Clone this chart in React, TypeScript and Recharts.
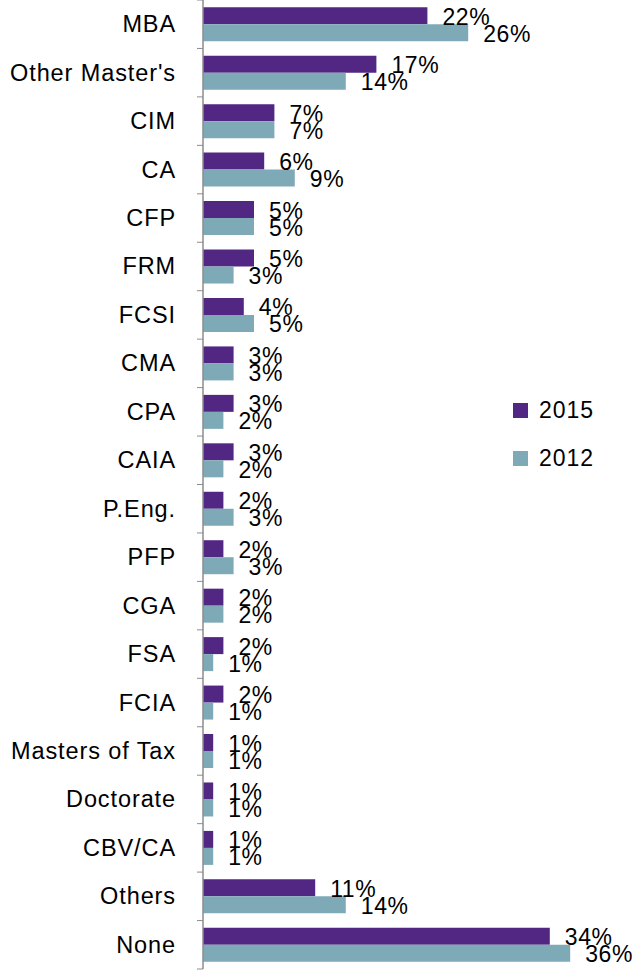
import { Bar, BarChart, LabelList, XAxis, YAxis } from "recharts";

const categories = [
  "MBA",
  "Other Master's",
  "CIM",
  "CA",
  "CFP",
  "FRM",
  "FCSI",
  "CMA",
  "CPA",
  "CAIA",
  "P.Eng.",
  "PFP",
  "CGA",
  "FSA",
  "FCIA",
  "Masters of Tax",
  "Doctorate",
  "CBV/CA",
  "Others",
  "None",
];
const values2015 = [22, 17, 7, 6, 5, 5, 4, 3, 3, 3, 2, 2, 2, 2, 2, 1, 1, 1, 11, 34];
const values2012 = [26, 14, 7, 9, 5, 3, 5, 3, 2, 2, 3, 3, 2, 1, 1, 1, 1, 1, 14, 36];
const seriesNames = ["2015", "2012"];

const colors = { y2015: "#522683", y2012: "#7eaab8", axis: "#8c8c8c" };
const font = "'Liberation Sans', Arial, sans-serif";

const chartData = categories.map((name, i) => ({
  name,
  y2015: values2015[i],
  y2012: values2012[i],
}));

const W = 638;
const H = 972;
const margin = { top: 0, right: 27, bottom: 3, left: 0 };
const band = (H - margin.top - margin.bottom) / categories.length;

function CategoryTick(props: any) {
  const { x, y, payload, index } = props;
  const axisX = x + 8;
  const top = y - band / 2;
  return (
    <g>
      <line x1={axisX - 6} x2={axisX} y1={top} y2={top} stroke={colors.axis} />
      {index === categories.length - 1 && (
        <line x1={axisX - 6} x2={axisX} y1={top + band} y2={top + band} stroke={colors.axis} />
      )}
      <text
        x={176}
        y={y}
        textAnchor="end"
        dominantBaseline="central"
        fontFamily={font}
        fontSize={23.5}
        letterSpacing={0.9}
        fill="#000"
      >
        {payload.value}
      </text>
    </g>
  );
}

function ValueLabel(props: any) {
  const { x, y, width, height, value } = props;
  return (
    <text
      x={x + width + 15}
      y={y + height / 2 + 1}
      dominantBaseline="central"
      fontFamily={font}
      fontSize={23}
      letterSpacing={0.6}
      fill="#000"
    >
      {`${value}%`}
    </text>
  );
}

function LegendBox() {
  const items = [
    { label: seriesNames[0], color: colors.y2015 },
    { label: seriesNames[1], color: colors.y2012 },
  ];
  return (
    <div style={{ position: "absolute", left: 513, top: 386, fontFamily: font }}>
      {items.map((it) => (
        <div key={it.label} style={{ display: "flex", alignItems: "center", height: 48 }}>
          <span style={{ width: 15, height: 15, background: it.color, marginRight: 11 }} />
          <span style={{ fontSize: 23, letterSpacing: 1, color: "#000" }}>{it.label}</span>
        </div>
      ))}
    </div>
  );
}

export default function App() {
  return (
    <div style={{ position: "absolute", left: 0, top: 0, width: W, height: H, background: "#fff" }}>
      <BarChart
        width={W}
        height={H}
        data={chartData}
        layout="vertical"
        margin={margin}
        barCategoryGap="15%"
        barGap={0}
      >
        <XAxis type="number" domain={[0, 40]} hide />
        <YAxis
          type="category"
          dataKey="name"
          width={203}
          axisLine={{ stroke: colors.axis, strokeWidth: 1.5 }}
          tickLine={false}
          tick={<CategoryTick />}
          interval={0}
        />
        <Bar dataKey="y2015" name={seriesNames[0]} fill={colors.y2015} isAnimationActive={false}>
          <LabelList dataKey="y2015" content={<ValueLabel />} />
        </Bar>
        <Bar dataKey="y2012" name={seriesNames[1]} fill={colors.y2012} isAnimationActive={false}>
          <LabelList dataKey="y2012" content={<ValueLabel />} />
        </Bar>
      </BarChart>
      <LegendBox />
    </div>
  );
}
